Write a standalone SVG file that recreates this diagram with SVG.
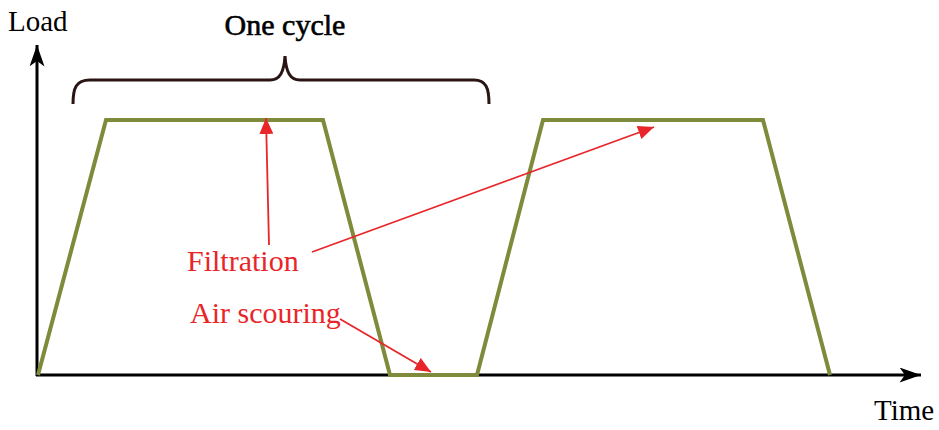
<svg xmlns="http://www.w3.org/2000/svg" width="939" height="430" viewBox="0 0 939 430">
<style>
.axis{stroke:#000;stroke-width:3;fill:none}
.load{stroke:#7f8a3a;stroke-width:4;fill:none;stroke-linejoin:miter}
.red{stroke:#e8262a;stroke-width:1.8;fill:none}
.brace{stroke:#2a1414;stroke-width:3;fill:none}
.t{font-family:"Liberation Serif",serif;font-size:29px;fill:#000}
.r{font-family:"Liberation Serif",serif;font-size:30px;fill:#e8262a}
</style>
<defs>
<marker id="ax" viewBox="0 0 20 14" refX="20" refY="7" markerWidth="22" markerHeight="15" markerUnits="userSpaceOnUse" orient="auto"><path d="M0,0 L20,7 L0,14 L5,7 z" fill="#000"/></marker>
<marker id="ra" viewBox="0 0 16 14" refX="16" refY="7" markerWidth="16" markerHeight="14" markerUnits="userSpaceOnUse" orient="auto"><path d="M0,0 L16,7 L0,14 z" fill="#e8262a"/></marker>
</defs>
<g id="axes">
<line class="axis" x1="37" y1="376" x2="37" y2="45" marker-end="url(#ax)"/>
<line class="axis" x1="36" y1="375" x2="921" y2="375" marker-end="url(#ax)"/>
</g>
<g id="load-curve">
<polyline class="load" points="38,375 106,120 323,120 390,375 477,375 543,120 763,120 830,375"/>
</g>
<g id="brace">
<path class="brace" d="M73,104 C73,88 76,80 90,80 L270,80 C280,80 284,72 285,56 C286,72 290,80 300,80 L474,80 C486,80 489,88 489,104"/>
</g>
<g id="labels">
<text class="t" x="8" y="31">Load</text>
<text class="t" x="285" y="35" text-anchor="middle" style="font-size:30px;stroke:#000;stroke-width:0.6">One cycle</text>
<text class="t" x="874" y="420">Time</text>
</g>
<g id="connectors">
<line class="red" x1="269" y1="245" x2="266" y2="118" marker-end="url(#ra)"/>
<line class="red" x1="312" y1="252" x2="654" y2="127" marker-end="url(#ra)"/>
<line class="red" x1="340" y1="319" x2="431" y2="372" marker-end="url(#ra)"/>
</g>
<g id="filtration"><text class="r" x="187" y="271">Filtration</text></g>
<g id="air-scouring"><text class="r" x="190" y="323">Air scouring</text></g>
</svg>
